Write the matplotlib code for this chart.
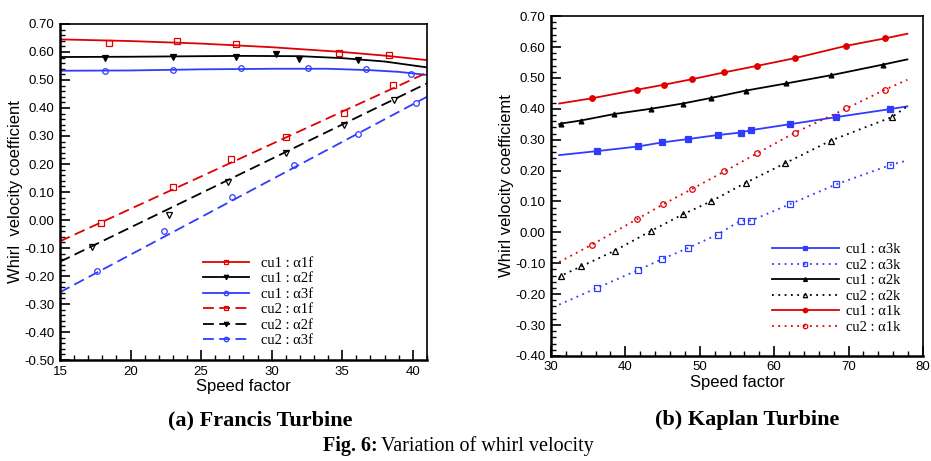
import matplotlib
matplotlib.use("Agg")
import matplotlib.pyplot as plt
from matplotlib.lines import Line2D
from matplotlib.ticker import MultipleLocator, FormatStrFormatter

plt.rcParams['font.family'] = ['Liberation Sans', 'DejaVu Sans']
plt.rcParams['axes.unicode_minus'] = False

RED = '#e00000'
BLUE = '#2f3cff'
BLACK = '#000000'

# ---- (a) Francis turbine: markers ----
f_a1f_cu1_x = [18.5, 23.3, 27.5, 34.8, 38.3]
f_a1f_cu1_y = [0.631, 0.638, 0.629, 0.598, 0.588]
f_a2f_cu1_x = [18.2, 23.0, 27.5, 30.3, 31.9, 36.1]
f_a2f_cu1_y = [0.580, 0.583, 0.583, 0.592, 0.576, 0.573]
f_a3f_cu1_x = [18.2, 23.0, 27.8, 32.6, 36.7, 39.9]
f_a3f_cu1_y = [0.531, 0.536, 0.542, 0.542, 0.538, 0.523]
f_a1f_cu2_x = [17.9, 23.0, 27.1, 31.0, 35.1, 38.6]
f_a1f_cu2_y = [-0.012, 0.119, 0.218, 0.298, 0.383, 0.481]
f_a2f_cu2_x = [17.3, 22.7, 26.9, 31.0, 35.1, 38.7]
f_a2f_cu2_y = [-0.095, 0.017, 0.136, 0.240, 0.338, 0.429]
f_a3f_cu2_x = [17.6, 22.4, 27.2, 31.6, 36.1, 40.2]
f_a3f_cu2_y = [-0.181, -0.038, 0.081, 0.195, 0.307, 0.417]

# fitted curves (as drawn)
f_a1f_cu1_lx = [15, 20, 25, 30, 35, 38, 41]
f_a1f_cu1_ly = [0.645, 0.639, 0.630, 0.617, 0.600, 0.587, 0.571]
f_a2f_cu1_lx = [15, 20, 25, 28, 32, 35, 38, 41]
f_a2f_cu1_ly = [0.582, 0.583, 0.585, 0.586, 0.585, 0.578, 0.566, 0.545]
f_a3f_cu1_lx = [15, 20, 25, 30, 34, 37, 39, 41]
f_a3f_cu1_ly = [0.533, 0.534, 0.538, 0.540, 0.540, 0.535, 0.529, 0.518]
f_a1f_cu2_lx = [15, 41]
f_a1f_cu2_ly = [-0.076, 0.526]
f_a2f_cu2_lx = [15, 41]
f_a2f_cu2_ly = [-0.149, 0.488]
f_a3f_cu2_lx = [15, 41]
f_a3f_cu2_ly = [-0.258, 0.440]

# ---- (b) Kaplan turbine ----
k_a1k_cu1_x = [35.5, 41.6, 45.2, 49.0, 53.3, 57.7, 62.8, 69.7, 74.9]
k_a1k_cu1_y = [0.434, 0.462, 0.478, 0.496, 0.518, 0.539, 0.564, 0.604, 0.628]
k_a2k_cu1_x = [31.3, 34.0, 38.5, 43.4, 47.7, 51.5, 56.2, 61.6, 67.7, 74.6]
k_a2k_cu1_y = [0.352, 0.362, 0.383, 0.400, 0.417, 0.435, 0.459, 0.482, 0.509, 0.543]
k_a3k_cu1_x = [36.2, 41.7, 44.9, 48.4, 52.4, 55.5, 56.9, 62.1, 68.3, 75.6]
k_a3k_cu1_y = [0.263, 0.278, 0.291, 0.302, 0.315, 0.323, 0.331, 0.350, 0.373, 0.399]
k_a1k_cu2_x = [35.5, 41.6, 45.1, 49.0, 53.3, 57.7, 62.8, 69.7, 74.9]
k_a1k_cu2_y = [-0.040, 0.043, 0.091, 0.141, 0.197, 0.256, 0.323, 0.401, 0.462]
k_a2k_cu2_x = [31.3, 34.1, 38.6, 43.4, 47.7, 51.5, 56.2, 61.5, 67.6, 75.8]
k_a2k_cu2_y = [-0.141, -0.110, -0.059, 0.004, 0.058, 0.100, 0.161, 0.224, 0.297, 0.373]
k_a3k_cu2_x = [36.2, 41.7, 44.9, 48.4, 52.4, 55.5, 56.9, 62.1, 68.3, 75.6]
k_a3k_cu2_y = [-0.180, -0.122, -0.087, -0.051, -0.007, 0.038, 0.038, 0.091, 0.155, 0.218]

k_start, k_end = 31.1, 77.9
k_a1k_cu1_ends = [0.417, 0.643]
k_a2k_cu1_ends = [0.350, 0.560]
k_a3k_cu1_ends = [0.250, 0.408]
k_a1k_cu2_ends = [-0.096, 0.494]
k_a2k_cu2_ends = [-0.148, 0.408]
k_a3k_cu2_ends = [-0.234, 0.233]

fig = plt.figure(figsize=(9.31, 4.61), dpi=100)
ax1 = fig.add_axes([0.0644, 0.219, 0.3942, 0.729])
ax2 = fig.add_axes([0.5918, 0.228, 0.3996, 0.737])

dash = (6, 3)
dot = (1, 2.5)
lw = 1.3
ms = 4

def style_axes(ax):
    ax.tick_params(which='both', direction='in', top=False, right=False,
                   labelsize=9.5, pad=4)
    ax.tick_params(which='major', length=7, width=1.2)
    ax.tick_params(which='minor', length=3.5, width=1)
    for side in ['left', 'bottom']:
        ax.spines[side].set_linewidth(1.8)
    for side in ['top', 'right']:
        ax.spines[side].set_linewidth(1.2)
    ax.yaxis.set_major_formatter(FormatStrFormatter('%.2f'))
    ax.yaxis.set_major_locator(MultipleLocator(0.1))
    ax.yaxis.set_minor_locator(MultipleLocator(0.02))
    ax.set_xlabel('Speed factor', fontsize=12, labelpad=1)

# Francis
f_series = [
    (f_a1f_cu1_lx, f_a1f_cu1_ly, f_a1f_cu1_x, f_a1f_cu1_y, RED, '-', 's', 'none', 'cu1 : \u03b11f'),
    (f_a2f_cu1_lx, f_a2f_cu1_ly, f_a2f_cu1_x, f_a2f_cu1_y, BLACK, '-', 'v', BLACK, 'cu1 : \u03b12f'),
    (f_a3f_cu1_lx, f_a3f_cu1_ly, f_a3f_cu1_x, f_a3f_cu1_y, BLUE, '-', 'o', 'none', 'cu1 : \u03b13f'),
    (f_a1f_cu2_lx, f_a1f_cu2_ly, f_a1f_cu2_x, f_a1f_cu2_y, RED, '--', 's', 'none', 'cu2 : \u03b11f'),
    (f_a2f_cu2_lx, f_a2f_cu2_ly, f_a2f_cu2_x, f_a2f_cu2_y, BLACK, '--', 'v', 'none', 'cu2 : \u03b12f'),
    (f_a3f_cu2_lx, f_a3f_cu2_ly, f_a3f_cu2_x, f_a3f_cu2_y, BLUE, '--', 'o', 'none', 'cu2 : \u03b13f'),
]
handles = []
for lx, ly, mx, my, c, ls, mk, fc, lab in f_series:
    line, = ax1.plot(lx, ly, color=c, lw=lw, linestyle=ls)
    if ls == '--':
        line.set_dashes(dash)
    ax1.plot(mx, my, linestyle='none', marker=mk, ms=ms, mfc=fc, mec=c, mew=0.9)
    h = Line2D([], [], color=c, lw=lw, linestyle=ls, marker=mk, ms=ms,
               mfc=c if mk == 'v' else 'none', mec=c, mew=0.9)
    if ls == '--':
        h.set_dashes(dash)
    handles.append((h, lab))

ax1.set_xlim(15, 41)
ax1.set_ylim(-0.5, 0.7)
ax1.xaxis.set_major_locator(MultipleLocator(5))
ax1.xaxis.set_minor_locator(MultipleLocator(1))
style_axes(ax1)
ax1.set_ylabel('Whirl  velocity coefficient', fontsize=12, labelpad=1)
ax1.legend([h for h, _ in handles], [l for _, l in handles], frameon=False,
           loc='upper left', bbox_to_anchor=(0.369, 0.33),
           prop={'family': 'Liberation Serif', 'size': 10.5},
           handlelength=3.2, handletextpad=0.8, labelspacing=0.16,
           borderpad=0, markerscale=0.8)

# Kaplan
k_series = [
    (k_a3k_cu1_x, k_a3k_cu1_y, k_a3k_cu1_ends, BLUE, '-', 's', BLUE, 'cu1 : \u03b13k'),
    (k_a3k_cu2_x, k_a3k_cu2_y, k_a3k_cu2_ends, BLUE, ':', 's', 'none', 'cu2 : \u03b13k'),
    (k_a2k_cu1_x, k_a2k_cu1_y, k_a2k_cu1_ends, BLACK, '-', '^', BLACK, 'cu1 : \u03b12k'),
    (k_a2k_cu2_x, k_a2k_cu2_y, k_a2k_cu2_ends, BLACK, ':', '^', 'none', 'cu2 : \u03b12k'),
    (k_a1k_cu1_x, k_a1k_cu1_y, k_a1k_cu1_ends, RED, '-', 'o', RED, 'cu1 : \u03b11k'),
    (k_a1k_cu2_x, k_a1k_cu2_y, k_a1k_cu2_ends, RED, ':', 'o', 'none', 'cu2 : \u03b11k'),
]
handles = []
for mx, my, ends, c, ls, mk, fc, lab in k_series:
    lx = [k_start] + mx + [k_end]
    ly = [ends[0]] + my + [ends[1]]
    line, = ax2.plot(lx, ly, color=c, lw=lw, linestyle='-')
    if ls == ':':
        line.set_dashes(dot)
    msz = 3.5 if mk == '^' and fc != 'none' else ms
    ax2.plot(mx, my, linestyle='none', marker=mk, ms=msz, mfc=fc, mec=c, mew=0.9)
    h = Line2D([], [], color=c, lw=lw, marker=mk, ms=msz, mfc=fc, mec=c, mew=0.9)
    if ls == ':':
        h.set_dashes(dot)
    handles.append((h, lab))

ax2.set_xlim(30, 80)
ax2.set_ylim(-0.4, 0.7)
ax2.xaxis.set_major_locator(MultipleLocator(10))
ax2.xaxis.set_minor_locator(MultipleLocator(2))
style_axes(ax2)
ax2.set_ylabel('Whirl velocity coefficiemt', fontsize=12, labelpad=1)
ax2.legend([h for h, _ in handles], [l for _, l in handles], frameon=False,
           loc='upper left', bbox_to_anchor=(0.5735, 0.354),
           prop={'family': 'Liberation Serif', 'size': 10.5},
           handlelength=4.6, handletextpad=0.5, labelspacing=0.16,
           borderpad=0, markerscale=0.8)

# captions
fig.text(0.280, 0.088, '(a) Francis Turbine', ha='center', va='center',
         family='Liberation Serif', weight='bold', fontsize=16)
fig.text(0.803, 0.088, '(b) Kaplan Turbine', ha='center', va='center',
         family='Liberation Serif', weight='bold', fontsize=16)
fig.text(0.406, 0.033, 'Fig. 6:', ha='right', va='center',
         family='Liberation Serif', weight='bold', fontsize=14.5)
fig.text(0.409, 0.033, 'Variation of whirl velocity', ha='left', va='center',
         family='Liberation Serif', fontsize=14.5)

fig.savefig('out.png', dpi=100)
